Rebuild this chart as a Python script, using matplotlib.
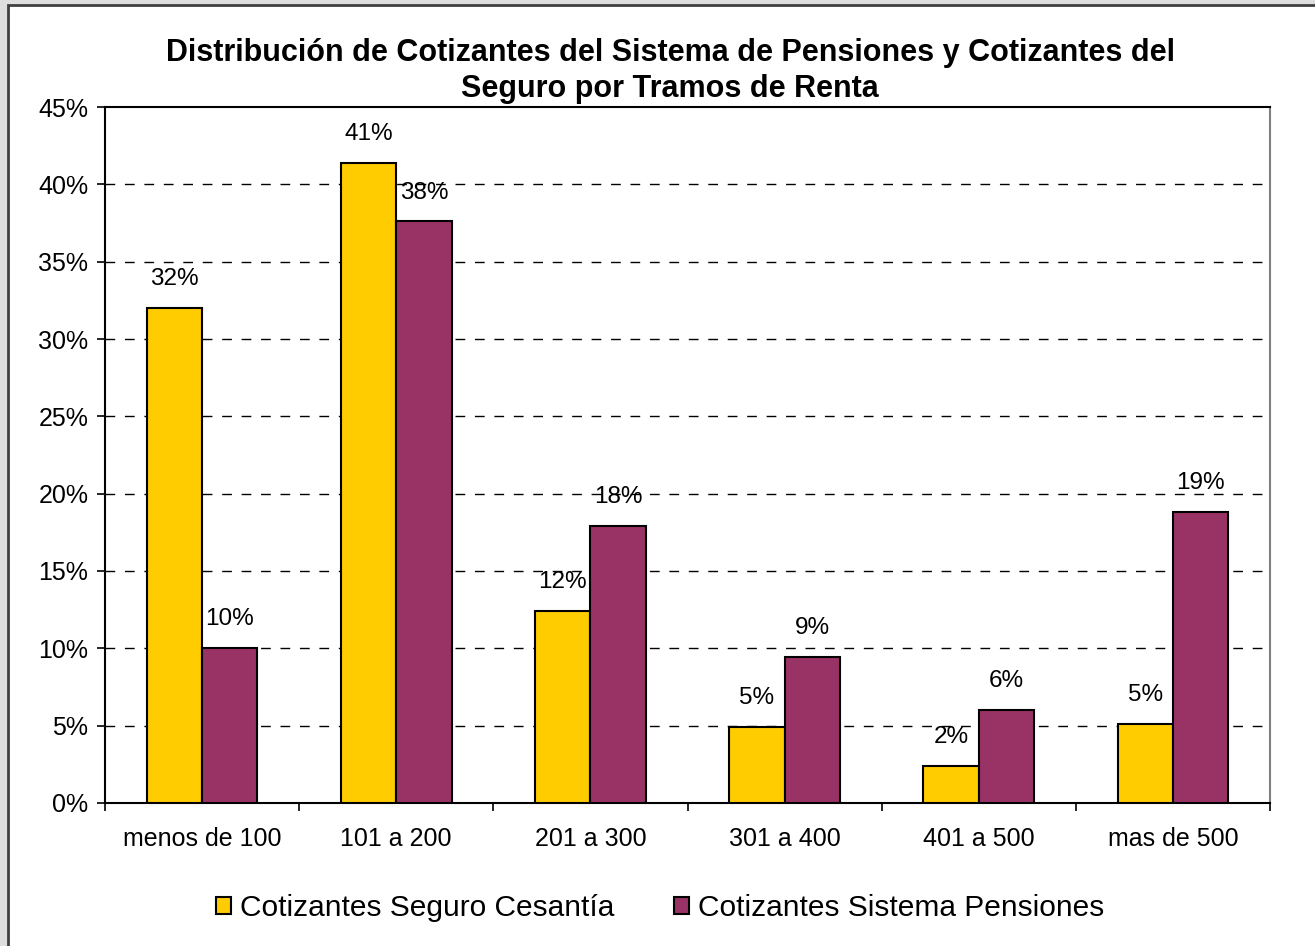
import numpy as np
import matplotlib
matplotlib.use('Agg')
import matplotlib.pyplot as plt
from matplotlib.patches import Rectangle
from matplotlib.ticker import FixedLocator, PercentFormatter

tramos = ['menos de 100', '101 a 200', '201 a 300', '301 a 400', '401 a 500', 'mas de 500']
seguro = [32.0, 41.4, 12.4, 4.9, 2.4, 5.1]
pensiones = [10.0, 37.6, 17.9, 9.45, 6.0, 18.8]
series_names = ['Cotizantes Seguro Cesantía', 'Cotizantes Sistema Pensiones']

plt.rcParams['font.family'] = ['Liberation Sans', 'DejaVu Sans']

fig = plt.figure(figsize=(13.15, 9.46), dpi=100, facecolor='#dedede')
# white chart area with dark frame
fig.patches.append(Rectangle((8/1315, -0.05), 1.1, 1.05 - 5/946,
                             transform=fig.transFigure, facecolor='white',
                             edgecolor='#404040', linewidth=2, zorder=-10))

ax = fig.add_axes([105/1315, 1 - 803/946, 1165/1315, 696/946])
ax.set_facecolor('white')

x = np.arange(len(tramos))
w = 0.285
b1 = ax.bar(x - w/2, seguro, w, color='#FFCC00', edgecolor='black', linewidth=1.5,
            label=series_names[0], zorder=3)
b2 = ax.bar(x + w/2, pensiones, w, color='#993366', edgecolor='black', linewidth=1.5,
            label=series_names[1], zorder=3)

for bars, vals in ((b1, seguro), (b2, pensiones)):
    for r, v in zip(bars, vals):
        ax.annotate('%d%%' % round(v), (r.get_x() + r.get_width()/2, v),
                    xytext=(0, 16.5), textcoords='offset points',
                    ha='center', va='baseline', fontsize=17.5, zorder=4)

ax.set_xlim(-0.5, len(tramos) - 0.5)
ax.set_ylim(0, 45)
ax.yaxis.set_major_locator(FixedLocator(np.arange(0, 46, 5)))
ax.yaxis.set_major_formatter(PercentFormatter(decimals=0))
ax.set_xticks(x)
ax.set_xticklabels(tramos)
ax.xaxis.set_minor_locator(FixedLocator(np.arange(-0.5, len(tramos), 1)))
ax.tick_params(axis='x', which='major', length=0, pad=17, labelsize=18)
ax.tick_params(axis='x', which='minor', length=6, width=1.2, color='black')
ax.tick_params(axis='y', length=6, width=1.2, pad=6, labelsize=18)

for yv in np.arange(5, 45, 5):
    ax.axhline(yv, color='black', linewidth=1, linestyle=(0, (7, 7)), zorder=1)

ax.spines['left'].set_linewidth(1.5)
ax.spines['bottom'].set_linewidth(1.5)
ax.spines['top'].set_linewidth(1.5)
ax.spines['right'].set_color('#808080')
ax.spines['right'].set_linewidth(1.5)

fig.text(670/1315, 1 - 71/946,
         'Distribución de Cotizantes del Sistema de Pensiones y Cotizantes del\nSeguro por Tramos de Renta',
         ha='center', va='center', fontsize=22, fontweight='bold', linespacing=1.3)

leg = fig.legend(loc='center', bbox_to_anchor=(660/1315, 1 - 908/946), ncol=2,
                 frameon=False, fontsize=21.5, handlelength=0.5, handleheight=0.5,
                 handletextpad=0.3, columnspacing=2.0)

fig.savefig('out.png', dpi=100, facecolor=fig.get_facecolor())
